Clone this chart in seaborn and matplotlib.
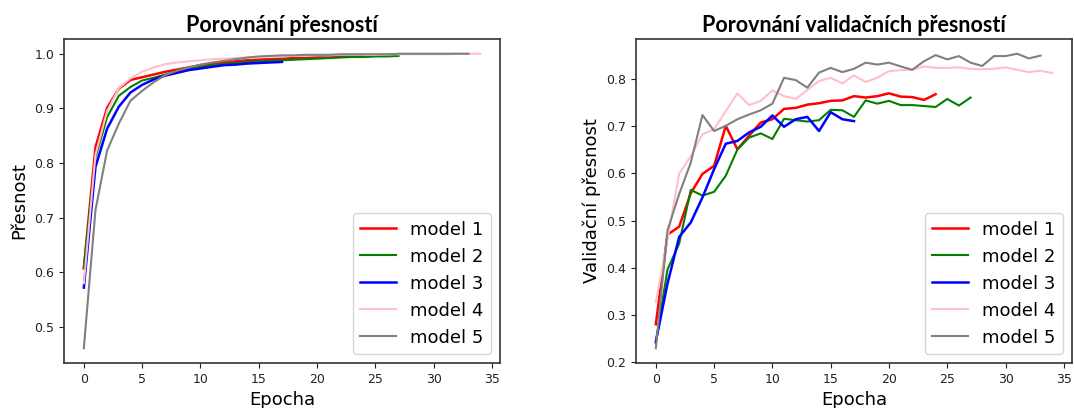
import numpy as np
import pandas as pd
import matplotlib
matplotlib.use("Agg")
import matplotlib.pyplot as plt
import seaborn as sns

# --- data ---
models = ["model 1", "model 2", "model 3", "model 4", "model 5"]
colors = ["red", "green", "blue", "pink", "gray"]

train1 = [0.607, 0.829, 0.901, 0.936, 0.952, 0.957, 0.962, 0.967, 0.971, 0.975, 0.979, 0.982,
          0.984, 0.986, 0.988, 0.989, 0.990, 0.991, 0.992, 0.993, 0.994, 0.995, 0.995, 0.996, 0.996]
train2 = [0.609, 0.810, 0.884, 0.923, 0.939, 0.951, 0.956, 0.962, 0.967, 0.972, 0.976, 0.979,
          0.981, 0.983, 0.985, 0.986, 0.987, 0.988, 0.989, 0.990, 0.991, 0.992, 0.993, 0.994,
          0.994, 0.995, 0.995, 0.996]
train3 = [0.572, 0.793, 0.863, 0.903, 0.929, 0.943, 0.953, 0.960, 0.965, 0.970, 0.973, 0.976,
          0.979, 0.980, 0.982, 0.983, 0.984, 0.985]
train4 = [0.580, 0.815, 0.895, 0.937, 0.955, 0.967, 0.975, 0.981, 0.984, 0.986, 0.988, 0.990,
          0.991, 0.992, 0.993, 0.994, 0.995, 0.995, 0.996, 0.996, 0.997, 0.997, 0.998, 0.998,
          0.998, 0.998, 0.999, 0.999, 0.999, 0.999, 0.999, 0.999, 1.000, 1.000, 1.000]
train5 = [0.461, 0.714, 0.823, 0.872, 0.914, 0.932, 0.948, 0.961, 0.969, 0.975, 0.980, 0.984,
          0.987, 0.990, 0.993, 0.995, 0.996, 0.997, 0.997, 0.998, 0.998, 0.998, 0.999, 0.999,
          0.999, 0.999, 0.999, 1.000, 1.000, 1.000, 1.000, 1.000, 1.000, 1.000]

val1 = [0.280, 0.470, 0.487, 0.558, 0.599, 0.616, 0.701, 0.651, 0.680, 0.708, 0.715, 0.737,
        0.739, 0.746, 0.749, 0.754, 0.755, 0.764, 0.761, 0.764, 0.770, 0.763, 0.762, 0.756, 0.768]
val2 = [0.240, 0.396, 0.451, 0.565, 0.553, 0.561, 0.595, 0.651, 0.676, 0.685, 0.673, 0.716,
        0.713, 0.710, 0.713, 0.735, 0.734, 0.720, 0.755, 0.748, 0.754, 0.745, 0.745, 0.743,
        0.741, 0.758, 0.744, 0.761]
val3 = [0.243, 0.366, 0.465, 0.496, 0.549, 0.609, 0.663, 0.669, 0.687, 0.699, 0.723, 0.699,
        0.715, 0.720, 0.690, 0.730, 0.715, 0.711]
val4 = [0.327, 0.460, 0.599, 0.637, 0.683, 0.694, 0.732, 0.770, 0.745, 0.754, 0.776, 0.764,
        0.758, 0.777, 0.796, 0.803, 0.791, 0.808, 0.794, 0.803, 0.817, 0.819, 0.820, 0.827,
        0.824, 0.824, 0.825, 0.822, 0.821, 0.822, 0.825, 0.820, 0.815, 0.818, 0.813]
val5 = [0.229, 0.479, 0.556, 0.623, 0.724, 0.690, 0.701, 0.715, 0.725, 0.734, 0.748, 0.803,
        0.798, 0.782, 0.814, 0.824, 0.815, 0.822, 0.835, 0.831, 0.835, 0.827, 0.820, 0.838,
        0.851, 0.842, 0.849, 0.835, 0.828, 0.849, 0.849, 0.854, 0.844, 0.850]

train = [train1, train2, train3, train4, train5]
val = [val1, val2, val3, val4, val5]

plt.rcParams["font.family"] = ["DejaVu Sans"]

fig = plt.figure(figsize=(10.74, 4.08), dpi=100)
ax1 = fig.add_axes([64 / 1074, 45 / 408, 436 / 1074, 324 / 408])
ax2 = fig.add_axes([636 / 1074, 45 / 408, 436 / 1074, 324 / 408])


def draw(ax, series, title, ylabel):
    for name, col, ys in zip(models, colors, series):
        df = pd.DataFrame({"Epocha": np.arange(len(ys)), "acc": ys})
        lw = 1.8 if col in ("red", "blue") else 1.5
        sns.lineplot(data=df, x="Epocha", y="acc", color=col, linewidth=lw, label=name, ax=ax)
    ax.set_title(title, fontsize=15.5, fontweight="bold", family=["Lato", "DejaVu Sans"], pad=5)
    ax.set_xlabel("Epocha", fontsize=13)
    ax.set_ylabel(ylabel, fontsize=13)
    ax.set_xticks(range(0, 36, 5))
    ax.tick_params(labelsize=9, colors="#222222")
    for sp in ax.spines.values():
        sp.set_color("#333333")
        sp.set_linewidth(1.2)
    ax.legend(loc="lower right", fontsize=13)


draw(ax1, train, "Porovnání přesností", "Přesnost")
ax1.set_yticks([0.5, 0.6, 0.7, 0.8, 0.9, 1.0])
draw(ax2, val, "Porovnání validačních přesností", "Validační přesnost")
ax2.set_yticks([0.2, 0.3, 0.4, 0.5, 0.6, 0.7, 0.8])

fig.savefig("out.png", dpi=100)
